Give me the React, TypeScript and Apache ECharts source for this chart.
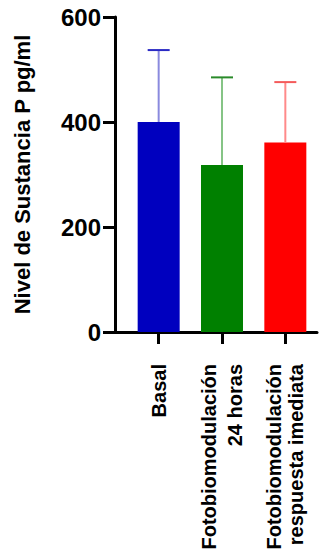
import React, { useEffect, useRef } from "react";
import * as echarts from "echarts";

const categories = [
  "Basal",
  "Fotobiomodulación\n24 horas",
  "Fotobiomodulación\nrespuesta imediata",
];
const means = [400, 318, 361];
const errors = [137, 167, 115];
const barColors = ["#0000BF", "#008000", "#FF0000"];
const whiskerColors = ["#8a8ade", "#86c486", "#ff8a8a"];
const capColors = ["#2a2ac4", "#2a8a2a", "#f45a5a"];
const yMin = 0;
const yMax = 600;
const yInterval = 200;
const yTitle = "Nivel de Sustancia P pg/ml";

const FONT = "'Liberation Sans', Arial, sans-serif";
const labelTweaks = [
  { lineHeight: 22, padding: [0, 0, 6, 0] },
  { lineHeight: 26, padding: [0, 0, 15, 0] },
  { lineHeight: 22, padding: [0, 0, 6, 0] },
];

export default function App() {
  const ref = useRef<HTMLDivElement>(null);
  useEffect(() => {
    document.body.style.margin = "0";
    if (!ref.current) return;
    const chart = echarts.init(ref.current, undefined, { renderer: "svg" });
    const option: any = {
      animation: false,
      backgroundColor: "#ffffff",
      grid: [
        { left: 127, right: 5, top: 17, bottom: 222 },
        { left: 115, right: 5, top: 17, bottom: 222 },
      ],
      xAxis: [
        {
          type: "category",
          gridIndex: 0,
          data: categories.map((c, i) => ({ value: c, textStyle: labelTweaks[i] })),
          axisLine: { show: false },
          axisTick: {
            show: true,
            alignWithLabel: true,
            length: 12,
            lineStyle: { color: "#000", width: 3 },
          },
          axisLabel: {
            rotate: 90,
            margin: 32,
            color: "#000",
            fontFamily: FONT,
            fontWeight: "bold",
            fontSize: 20,
            lineHeight: 22,
            align: "right",
            verticalAlign: "middle",
          },
        },
        {
          type: "value",
          gridIndex: 1,
          min: 0,
          max: 1,
          axisLine: { show: true, onZero: false, lineStyle: { color: "#000", width: 3 } },
          axisTick: { show: false },
          axisLabel: { show: false },
          splitLine: { show: false },
        },
      ],
      yAxis: [
        {
          type: "value",
          gridIndex: 0,
          min: yMin,
          max: yMax,
          interval: yInterval,
          offset: 12,
          axisLine: { show: true, lineStyle: { color: "#000", width: 3 } },
          axisTick: { show: true, length: 12, lineStyle: { color: "#000", width: 3 } },
          splitLine: { show: false },
          axisLabel: {
            margin: 14,
            color: "#000",
            fontFamily: FONT,
            fontWeight: "bold",
            fontSize: 24,
          },
          name: yTitle,
          nameLocation: "middle",
          nameGap: 82,
          nameTextStyle: {
            color: "#000",
            fontFamily: FONT,
            fontWeight: "bold",
            fontSize: 22,
          },
        },
        {
          type: "value",
          gridIndex: 1,
          show: false,
        },
      ],
      series: [
        {
          type: "bar",
          xAxisIndex: 0,
          yAxisIndex: 0,
          barWidth: 42,
          data: means.map((v, i) => ({
            value: v,
            itemStyle: { color: barColors[i] },
          })),
          z: 2,
        },
        {
          type: "custom",
          xAxisIndex: 0,
          yAxisIndex: 0,
          z: 3,
          data: means.map((m, i) => [i, m, m + errors[i]]),
          renderItem: (params: any, api: any) => {
            const idx = params.dataIndex;
            const x = api.value(0);
            const lo = api.coord([x, api.value(1)]);
            const hi = api.coord([x, api.value(2)]);
            const half = 11;
            return {
              type: "group",
              children: [
                {
                  type: "line",
                  shape: { x1: lo[0], y1: lo[1], x2: hi[0], y2: hi[1] },
                  style: { stroke: whiskerColors[idx], lineWidth: 2 },
                },
                {
                  type: "line",
                  shape: { x1: hi[0] - half, y1: hi[1], x2: hi[0] + half, y2: hi[1] },
                  style: { stroke: capColors[idx], lineWidth: 2 },
                },
              ],
            };
          },
        },
      ],
    };
    chart.setOption(option);
    return () => chart.dispose();
  }, []);
  return <div ref={ref} style={{ width: 322, height: 554 }} />;
}
